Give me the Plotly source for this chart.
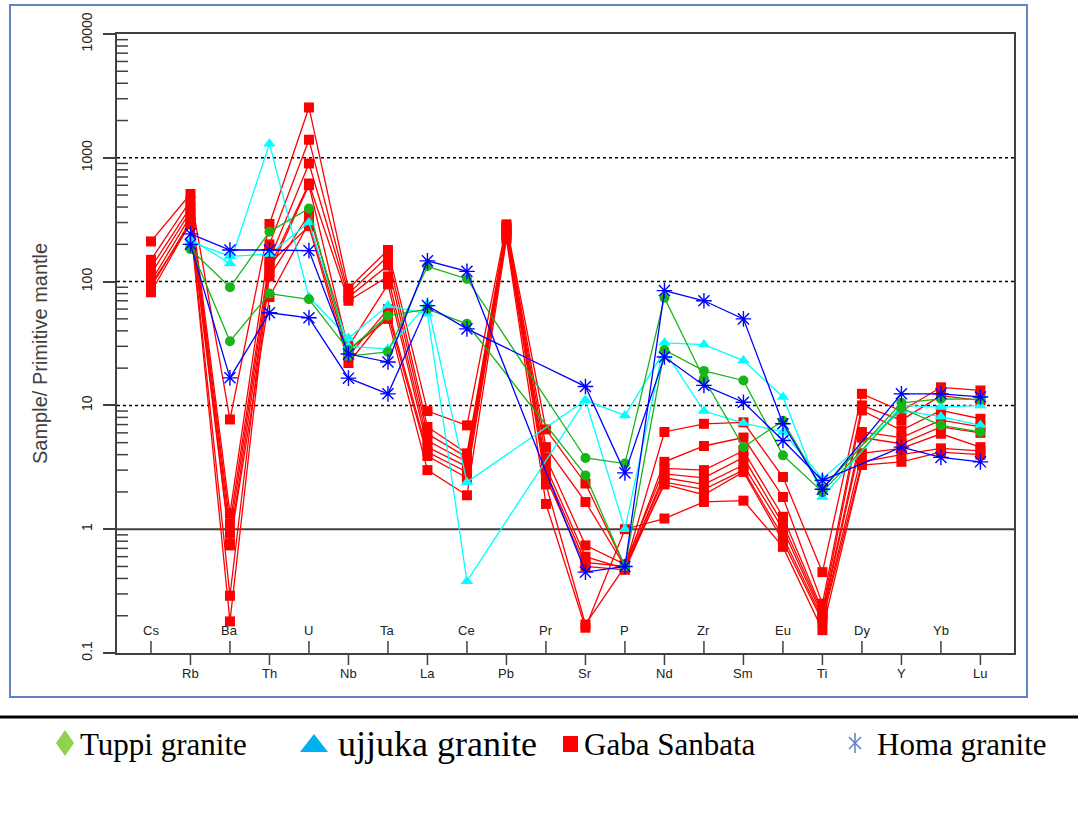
import plotly.graph_objects as go

# Primitive-mantle normalised trace element spider diagram
ELEMENTS = ["Cs", "Rb", "Ba", "Th", "U", "Nb", "Ta", "La", "Ce", "Pb", "Pr",
            "Sr", "P", "Nd", "Zr", "Sm", "Eu", "Ti", "Dy", "Y", "Yb", "Lu"]
N = None

# Gaba Sanbata samples
gaba_1 = [211, 510, 7.7, 292, 2550, 88, 180, 9.0, 6.9, 290, 6.4, 2.34, 0.5, 6.1, 7.1, 7.3, 2.64, 0.45, 12.4, 9.0, 14.0, 13.2]
gaba_2 = [150, 450, 1.34, 200, 1400, 80, 160, 6.7, 4.1, 280, 4.6, 1.66, 0.5, 3.5, 4.7, 5.5, 1.82, 0.25, 10.0, 7.6, 12.0, 11.0]
gaba_3 = [130, 400, 1.1, 150, 900, 75, 135, 5.9, 3.8, 270, 3.8, 0.74, 0.52, 3.1, 3.0, 4.3, 1.26, 0.22, 9.1, 6.3, 9.1, 7.8]
gaba_4 = [115, 370, 0.93, 130, 620, 70, 110, 5.2, 3.5, 260, 3.2, 0.6, 0.48, 2.8, 2.6, 3.8, 1.1, 0.21, 6.1, 5.5, 7.6, 6.7]
gaba_5 = [100, 340, 0.77, 110, 350, 30, 95, 4.6, 3.2, 250, 2.9, 0.54, 0.5, 2.6, 2.3, 3.3, 1.0, 0.2, 5.5, 4.9, 6.7, 6.0]
gaba_6 = [90, 310, 0.74, 75, 300, 25, 60, 4.2, 2.9, 240, 2.6, 0.5, 0.47, 2.4, 2.1, 3.0, 0.87, 0.19, 4.1, 4.5, 5.9, 4.6]
gaba_7 = [82, 300, 0.29, 140, 280, 22, 55, 3.9, 2.6, 230, 2.3, 0.17, 0.5, 2.3, 1.9, 2.9, 0.8, 0.18, 3.5, 4.0, 4.5, 4.3]
gaba_8 = [95, 290, 0.18, 120, 600, 28, 50, 3.0, 1.88, 220, 1.6, 0.16, 1.0, 1.22, 1.66, 1.7, 0.72, 0.153, 3.3, 3.5, 4.2, 4.0]

# ujjuka granite samples
ujjuka_1 = [N, 221, 140, 1300, 75, 35, 64, 55, 0.38, N, N, 11, 1.0, 32, 31, 23, 11.7, 1.82, N, 10, 9.7, 10]
ujjuka_2 = [N, 210, 160, 167, 300, 30, 28.6, 66, 2.4, N, N, 11, 8.3, 27.6, 9, 7.2, 6.1, 2.56, N, 9.1, 8.1, 6.9]

# Tuppi granite samples
tuppi_1 = [N, 183, 90, 253, 390, 25, 27, 133, 105, N, N, 3.76, 3.39, 74, 16.4, 4.6, 7.5, 2.13, N, 10.5, 11.3, 11.2]
tuppi_2 = [N, 190, 33, 80, 72, 28, 53, 60, 45.6, N, N, 2.72, 0.5, 28, 19, 15.9, 3.95, 2.0, N, 9.5, 6.9, 6.1]

# Homa granite samples
homa_1 = [N, 243, 180, 180, 178, 26, 22.4, 147, 121, N, N, 0.45, 0.5, 84.6, 70, 50, 7.1, 2.1, N, 12.4, 12.4, 11.7]
homa_2 = [N, 200, 16.7, 56, 51, 16.6, 12.4, 64, 41.5, N, N, 14.2, 2.85, 24.6, 14.5, 10.6, 5.2, 2.48, N, 4.6, 3.8, 3.5]

Y_TICKS = [0.1, 1, 10, 100, 1000, 10000]
Y_TICK_TEXT = ["0.1", "1", "10", "100", "1000", "10000"]

GROUPS = [
    ("Gaba Sanbata", [gaba_1, gaba_2, gaba_3, gaba_4, gaba_5, gaba_6, gaba_7, gaba_8],
     "#FF0000", dict(symbol="square", size=10, color="#FF0000")),
    ("ujjuka granite", [ujjuka_1, ujjuka_2],
     "#00FFFF", dict(symbol="triangle-up", size=11, color="#00FFFF")),
    ("Tuppi granite", [tuppi_1, tuppi_2],
     "#19B419", dict(symbol="circle", size=10, color="#19B419")),
    ("Homa granite", [homa_1, homa_2],
     "#0000FF", dict(symbol="asterisk-open", size=13, color="#0000FF",
                     line=dict(color="#0000FF", width=1.4))),
]

W, H = 1078, 832
ML, MR, MT, MB = 117, 64, 34, 179
PW, PH = W - ML - MR, H - MT - MB
X_RANGE = [-0.86, 21.85]
AXIS_COLOR = "#404040"


def px(xp):
    return (xp - ML) / PW


def py(yp):
    return (H - MB - yp) / PH


def cat_paper(i):
    return (i - X_RANGE[0]) / (X_RANGE[1] - X_RANGE[0])


fig = go.Figure()
for name, samples, color, marker in GROUPS:
    for k, vals in enumerate(samples):
        fig.add_trace(go.Scatter(
            x=ELEMENTS, y=vals, mode="lines+markers", name=name,
            legendgroup=name, showlegend=False, connectgaps=True,
            line=dict(color=color, width=1.3), marker=marker,
            cliponaxis=False,
        ))

shapes = []
# decade guide lines
for v in [1000, 100, 10]:
    shapes.append(dict(type="line", xref="paper", yref="y", x0=0, x1=1, y0=v, y1=v,
                       line=dict(color="black", width=1.5, dash="dot"), layer="below"))
shapes.append(dict(type="line", xref="paper", yref="y", x0=0, x1=1, y0=1, y1=1,
                   line=dict(color=AXIS_COLOR, width=2), layer="below"))
# minor log ticks on the inside of the y axis
for d in range(-1, 4):
    for m in range(2, 10):
        v = m * 10.0 ** d
        shapes.append(dict(type="line", xref="paper", yref="y", x0=0, x1=11 / PW,
                           y0=v, y1=v, line=dict(color=AXIS_COLOR, width=1.5)))
# alternating category ticks
for i in range(len(ELEMENTS)):
    xp = cat_paper(i)
    y1 = 12 / PH if i % 2 == 0 else -12 / PH
    shapes.append(dict(type="line", xref="paper", yref="paper", x0=xp, x1=xp,
                       y0=0, y1=y1, line=dict(color=AXIS_COLOR, width=1.5)))

# outer frame and separator rule
shapes.append(dict(type="rect", xref="paper", yref="paper",
                   x0=px(10), x1=px(1027), y0=py(697), y1=py(5),
                   line=dict(color="#5B86C2", width=2)))
shapes.append(dict(type="line", xref="paper", yref="paper",
                   x0=px(0), x1=px(W), y0=py(717), y1=py(717),
                   line=dict(color="black", width=3)))

# legend symbols
cx, cy = 65, 743
shapes.append(dict(type="path", xref="paper", yref="paper",
                   path=f"M {px(cx)},{py(cy-13)} L {px(cx+9)},{py(cy)} L {px(cx)},{py(cy+13)} L {px(cx-9)},{py(cy)} Z",
                   fillcolor="#92D050", line=dict(width=0)))
cx = 314
shapes.append(dict(type="path", xref="paper", yref="paper",
                   path=f"M {px(cx-14)},{py(752)} L {px(cx+14)},{py(752)} L {px(cx)},{py(734)} Z",
                   fillcolor="#00B0F0", line=dict(width=0)))
shapes.append(dict(type="rect", xref="paper", yref="paper",
                   x0=px(563), x1=px(578), y0=py(752), y1=py(736),
                   fillcolor="#FF0000", line=dict(width=0)))
cx = 855
for (a, b, c, d) in [(cx, 733, cx, 753), (cx - 6, 737, cx + 6, 749), (cx + 6, 737, cx - 6, 749)]:
    shapes.append(dict(type="line", xref="paper", yref="paper",
                       x0=px(a), y0=py(b), x1=px(c), y1=py(d),
                       line=dict(color="#5A7EC2", width=1.5)))

annotations = []
for i, el in enumerate(ELEMENTS):
    ypos = py(630) if i % 2 == 0 else py(673)
    annotations.append(dict(x=i, xref="x", y=ypos, yref="paper", text=el,
                            showarrow=False, xanchor="center", yanchor="middle",
                            font=dict(family="Liberation Sans, Arial", size=13, color="#222")))

annotations.append(dict(x=px(27), y=py(354), xref="paper", yref="paper",
                        text="Sample/ Primitive mantle", textangle=-90, showarrow=False,
                        font=dict(family="Liberation Sans, Arial", size=20, color="#404040")))

legend_items = [("Tuppi granite", 78, 31), ("ujjuka granite", 336, 36),
                ("Gaba Sanbata", 582, 31), ("Homa granite", 875, 31)]
for text, xl, fs in legend_items:
    annotations.append(dict(x=px(xl), y=py(744), xref="paper", yref="paper", text=text,
                            showarrow=False, xanchor="left", yanchor="middle",
                            font=dict(family="Liberation Serif, Times New Roman", size=fs,
                                      color="black")))

fig.update_layout(
    width=W, height=H, margin=dict(l=ML, r=MR, t=MT, b=MB),
    paper_bgcolor="white", plot_bgcolor="white", showlegend=False,
    shapes=shapes, annotations=annotations,
    xaxis=dict(type="category", categoryorder="array", categoryarray=ELEMENTS,
               range=X_RANGE, showticklabels=False, ticks="", showgrid=False,
               zeroline=False, showline=True, linecolor=AXIS_COLOR, linewidth=2,
               mirror=True),
    yaxis=dict(type="log", range=[-1, 4], tickvals=Y_TICKS, ticktext=Y_TICK_TEXT,
               tickangle=-90, ticks="outside", ticklen=12, tickwidth=2,
               tickcolor=AXIS_COLOR, showgrid=False, zeroline=False, showline=True,
               linecolor=AXIS_COLOR, linewidth=2, mirror=True, ticklabelstandoff=5,
               tickfont=dict(family="Liberation Sans, Arial", size=14, color="#222")),
)

fig.write_html("out.html")
